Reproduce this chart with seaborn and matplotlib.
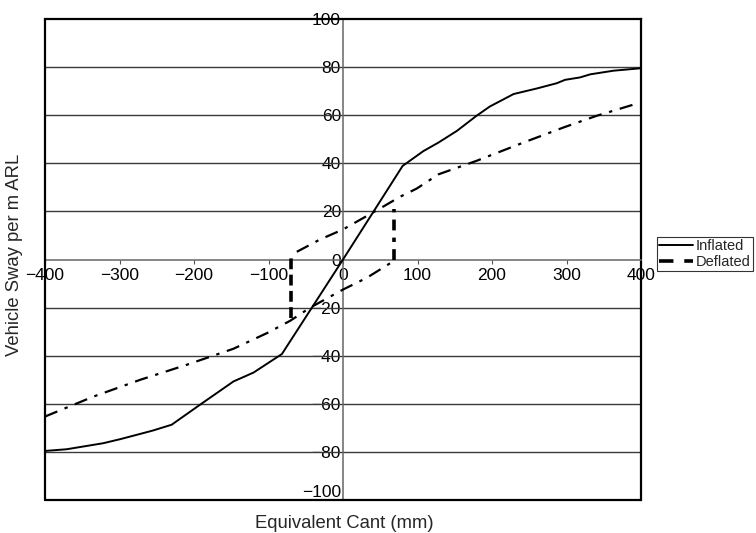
import matplotlib
matplotlib.use("Agg")
import matplotlib.pyplot as plt
import seaborn as sns
import pandas as pd
from matplotlib.lines import Line2D

# Inflated curve
inf_x = [-400, -371, -322, -299, -272, -255, -230, -192, -147, -120, -82, 0,
         80, 108, 128, 153, 179, 197, 229, 260, 287, 298, 318, 332, 363, 399]
inf_y = [-79.6, -78.9, -76.4, -74.7, -72.5, -71.1, -68.7, -60.4, -50.7, -47.0, -39.3, 0,
         38.9, 45.1, 48.6, 53.5, 59.7, 63.6, 68.8, 71.1, 73.3, 74.7, 75.7, 77.0, 78.5, 79.5]

# Deflated curve: lower branch (loading) and upper branch (unloading)
def_low_x = [-400, -335, -272, -210, -147, -102, -71, -44, 0, 32, 61, 69]
def_low_y = [-65.3, -57.0, -50.0, -43.8, -37.1, -30.6, -25.5, -20.0, -12.5, -7.6, -2.0, -0.5]
def_up_x = [-62, -31, 0, 36, 59, 76, 99, 128, 179, 242, 296, 340, 392]
def_up_y = [3.2, 8.3, 12.5, 18.8, 22.9, 26.0, 29.5, 35.4, 41.0, 48.6, 54.9, 59.7, 64.6]

# Transition jumps of the deflated curve
jump_left_x = [-70, -70]
jump_left_y = [-24.3, 0.7]
jump_right_x = [69, 69]
jump_right_y = [-0.4, 21.0]

x_ticks = [-400, -300, -200, -100, 0, 100, 200, 300, 400]
y_ticks = [-100, -80, -60, -40, -20, 0, 20, 40, 60, 80, 100]

sns.set_theme(style="white")
plt.rcParams['font.family'] = ['Liberation Sans', 'DejaVu Sans']
plt.rcParams['axes.unicode_minus'] = True

fig = plt.figure(figsize=(7.56, 5.33), dpi=100)
ax = fig.add_axes([45/756, 1 - 500/533, (641 - 45)/756, (500 - 19)/533])

# horizontal gridlines
for yv in y_ticks:
    if yv in (-100, 100, 0):
        continue
    ax.axhline(yv, color="#3a3a3a", lw=1.0, zorder=1)

df_inf = pd.DataFrame({"x": inf_x, "y": inf_y})
df_low = pd.DataFrame({"x": def_low_x, "y": def_low_y})
df_up = pd.DataFrame({"x": def_up_x, "y": def_up_y})
df_jl = pd.DataFrame({"x": jump_left_x, "y": jump_left_y})
df_jr = pd.DataFrame({"x": jump_right_x, "y": jump_right_y})

sns.lineplot(data=df_inf, x="x", y="y", ax=ax, color="black", lw=1.4,
             sort=False, estimator=None, zorder=4)
dashdot = (6, 3.5, 1.5, 3.5)
sns.lineplot(data=df_low, x="x", y="y", ax=ax, color="black", lw=1.6,
             sort=False, estimator=None, zorder=4).lines[-1].set_dashes(dashdot)
sns.lineplot(data=df_up, x="x", y="y", ax=ax, color="black", lw=1.6,
             sort=False, estimator=None, zorder=4).lines[-1].set_dashes(dashdot)
sns.lineplot(data=df_jl, x="x", y="y", ax=ax, color="black", lw=2.6,
             sort=False, estimator=None, zorder=4).lines[-1].set_dashes((3, 1.5))
sns.lineplot(data=df_jr, x="x", y="y", ax=ax, color="black", lw=2.6,
             sort=False, estimator=None, zorder=4).lines[-1].set_dashes((3, 2, 1.2, 2))

ax.set_xlim(-400, 400)
ax.set_ylim(-100, 100)

# spines: left/bottom through the origin, frame drawn by top/right + extra lines
ax.spines['left'].set_position(('data', 0))
ax.spines['bottom'].set_position(('data', 0))
for s in ('left', 'bottom'):
    ax.spines[s].set_color("#666666")
    ax.spines[s].set_linewidth(1.1)
for s in ('top', 'right'):
    ax.spines[s].set_color("black")
    ax.spines[s].set_linewidth(1.6)
ax.axvline(-400, color="black", lw=1.6, clip_on=False, zorder=5)
ax.axhline(-100, color="black", lw=1.6, clip_on=False, zorder=5)

ax.set_xticks(x_ticks)
ax.set_yticks(y_ticks)
ax.set_xticklabels([str(v).replace("-", "\u2212") for v in x_ticks])
ax.set_yticklabels([str(v).replace("-", "\u2212") for v in y_ticks])
ax.tick_params(axis='x', direction='out', length=3, width=0.8, color="#555555",
               labelsize=12.5, pad=3, labelcolor="black", bottom=True, top=False)
ax.tick_params(axis='y', direction='out', length=1, width=0.8, color="#555555",
               labelsize=12.5, pad=0.5, labelcolor="black", left=True, right=False)
# nudge the extreme y labels inward like the reference
for lab in ax.get_yticklabels():
    t = lab.get_text()
    if t == "\u2212100":
        lab.set_va("bottom")
ax.set_xlabel("")
ax.set_ylabel("")

fig.text(344/756, 1 - 523/533, "Equivalent Cant (mm)", ha="center", va="center", fontsize=13.3)
fig.text(15/756, 1 - 255/533, "Vehicle Sway per m ARL", ha="center", va="center",
         rotation=90, fontsize=13.3)

handles = [Line2D([], [], color="black", lw=1.4),
           Line2D([], [], color="black", lw=2.6, dashes=(4, 3))]
leg = fig.legend(handles, ["Inflated", "Deflated"], loc="upper left",
                 bbox_to_anchor=(657/756, 1 - 237/533), frameon=True, fancybox=False,
                 edgecolor="black", fontsize=10.5, handlelength=2.3, handletextpad=0.2,
                 borderpad=0.15, labelspacing=0.1, borderaxespad=0)
leg.get_frame().set_linewidth(0.8)

fig.savefig("out.png", dpi=100)
